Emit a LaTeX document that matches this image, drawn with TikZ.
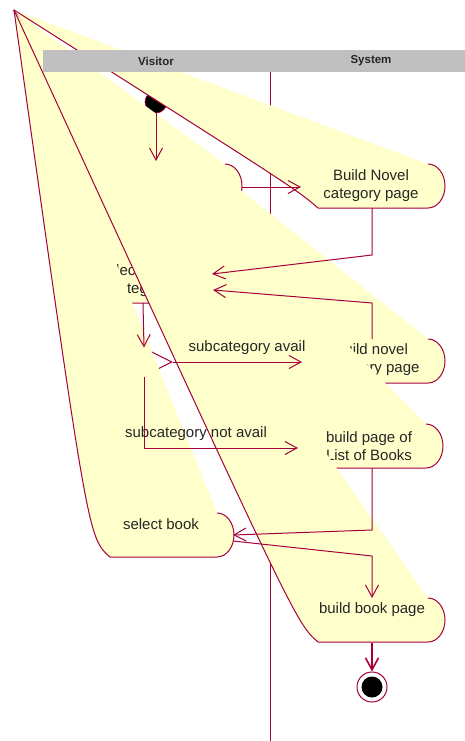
\documentclass[tikz,border=0pt]{standalone}
\usepackage{fontspec}
\setmainfont{Liberation Sans}
\usetikzlibrary{arrows.meta,shapes.geometric}
\definecolor{roseline}{RGB}{165,0,60}
\definecolor{actyellow}{RGB}{255,255,204}
\definecolor{lanegray}{RGB}{192,192,192}
% broken activity shape: #1 = left x, #2 = x where right arc starts, #3 = centre y
\newcommand{\brokenact}[3]{%
  \fill[actyellow] (apex) .. controls ({#1},{#3+3}) and ({#1},{#3+3}) .. ({#1+22},{#3+22})
    -- ({#2},{#3+22}) .. controls ({#2+9.4},{#3+22}) and ({#2+17},{#3+12.1}) .. ({#2+17},{#3})
    .. controls ({#2+17},{#3-12.1}) and ({#2+9.4},{#3-22}) .. ({#2},{#3-22}) -- cycle;
  \draw[actline] (apex) .. controls ({#1},{#3+3}) and ({#1},{#3+3}) .. ({#1+22},{#3+22})
    -- ({#2},{#3+22}) .. controls ({#2+9.4},{#3+22}) and ({#2+17},{#3+12.1}) .. ({#2+17},{#3})
    .. controls ({#2+17},{#3-12.1}) and ({#2+9.4},{#3-22}) .. ({#2},{#3-22});
}
\begin{document}
\begin{tikzpicture}[x=1pt,y=-1pt,
  actline/.style={draw=roseline,line width=1pt,line join=round},
  trans/.style={draw=roseline,line width=1pt,-{Straight Barb[length=12pt,width=13pt,line width=1pt]}},
  acttext/.style={font=\fontsize{15}{18}\selectfont,align=center,text=black!85,inner sep=0pt},
  lbl/.style={font=\fontsize{15}{18}\selectfont,text=black!85,inner sep=0pt,anchor=base},
  lanehead/.style={font=\fontsize{11.5}{13}\selectfont\bfseries,text=black!85,inner sep=0pt}]
\useasboundingbox (0,0) rectangle (465,741);
\fill[white] (0,0) rectangle (465,741);
\coordinate (apex) at (14,10);
% swimlane divider
\coordinate (laneTop) at (270,72);
\coordinate (laneBot) at (270,741);
\draw[roseline,line width=1pt] (laneTop) -- (laneBot);
% initial state
\node[circle,fill=black,draw=roseline,line width=0.6pt,minimum size=22pt,inner sep=0pt] (init) at (156,102) {};
% first visitor activity (text hidden)
\brokenact{68}{225}{186}
% Build Novel category page
\brokenact{296}{428}{186}
\node[acttext] (buildcat) at (371,186) {Build Novel\\category page};
% select category
\brokenact{74}{195}{281}
\node[acttext] (selcat) at (140,281) {select novel\\category};
% build novel subcategory page
\brokenact{296}{428}{361}
\node[acttext] (buildsub) at (372,360) {build novel\\category page};
% build page of list of books
\brokenact{296}{426}{446}
\node[acttext] (buildlist) at (369,446) {build page of\\List of Books};
% decision
\node[diamond,draw=roseline,line width=1pt,minimum width=56pt,minimum height=28pt,inner sep=0pt] (dec) at (144,362) {};
% select book
\brokenact{88}{217}{535}
\node[lbl] (selbook) at (161,529) {select book};
% build book page
\brokenact{296}{428}{620}
\node[lbl] (buildbook) at (372,613) {build book page};
% final state
\node[circle,draw=roseline,fill=white,line width=1pt,minimum size=30pt,inner sep=0pt] (final) at (372,687) {};
\node[circle,fill=black,minimum size=21pt,inner sep=0pt] (finalin) at (final.center) {};
% connector end points
\coordinate (X-top) at (156,161);
\coordinate (X-right) at (242,187);
\coordinate (A-left) at (301,187);
\coordinate (A-bot) at (372,208);
\coordinate (A-bend) at (372,255);
\coordinate (B-right1) at (212,274);
\coordinate (B-right2) at (213,290);
\coordinate (B-bot) at (143,303);
\coordinate (C-left) at (302,362);
\coordinate (C-top) at (372,339);
\coordinate (C-bend) at (372,303);
\coordinate (D-left) at (298,448);
\coordinate (D-bend0) at (144,448);
\coordinate (D-bot) at (372,468);
\coordinate (D-bend) at (372,530);
\coordinate (E-right1) at (233,535);
\coordinate (E-right2) at (233,541);
\coordinate (F-bend) at (372,556);
\coordinate (F-top) at (372,598);
\coordinate (F-bot) at (372,643);
% transitions
\draw[trans] (init.south) -- (X-top);
\draw[trans] (X-right) -- (A-left);
\draw[trans] (A-bot) -- (A-bend) -- (B-right1);
\draw[trans] (B-bot) -- (dec.north);
\draw[trans] (dec.east) -- (C-left);
\draw[trans] (dec.south) -- (D-bend0) -- (D-left);
\draw[trans] (C-top) -- (C-bend) -- (B-right2);
\draw[trans] (D-bot) -- (D-bend) -- (E-right1);
\draw[trans] (E-right2) -- (F-bend) -- (F-top);
\draw[roseline,line width=1.6pt,-{Straight Barb[length=12pt,width=13pt,line width=1.6pt]}] (F-bot) -- (final.north);
\node[lbl] (lavail) at (247,351) {subcategory avail};
\node[lbl] (lnot) at (196,437) {subcategory not avail};
% lane header
\fill[lanegray] (43,50) rectangle (465,72);
\node[lanehead] (hvis) at (156,61) {Visitor};
\node[lanehead] (hsys) at (371,61) {System};
\end{tikzpicture}
\end{document}
